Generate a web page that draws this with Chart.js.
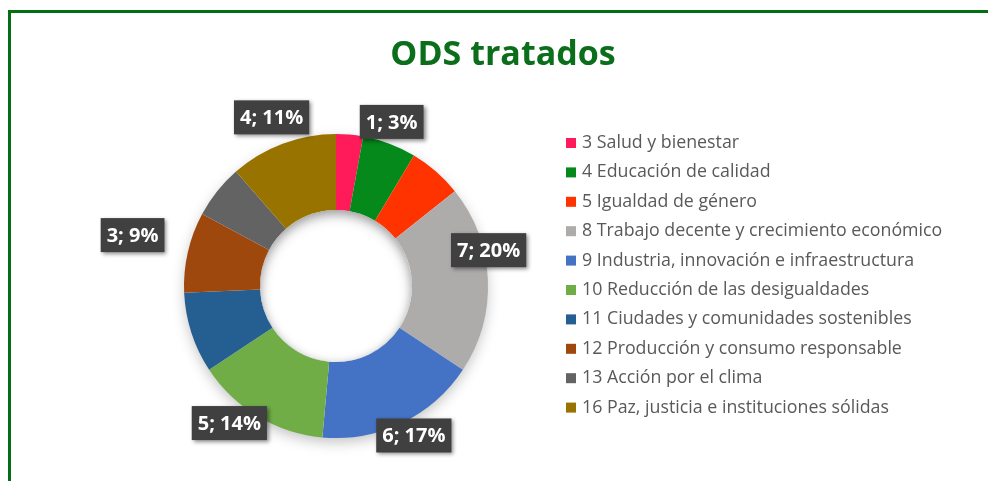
<!DOCTYPE html>
<html>
<head>
<meta charset="utf-8">
<script src="https://cdn.jsdelivr.net/npm/chart.js@4.4.1/dist/chart.umd.min.js"></script>
<style>
  html, body { margin: 0; padding: 0; background: #ffffff; }
  #wrap { position: relative; width: 988px; height: 481px; }
</style>
</head>
<body>
<div id="wrap"><canvas id="c" width="988" height="481"></canvas></div>
<script>
// ---- data ----
const categories = [
  "3 Salud y bienestar",
  "4 Educación de calidad",
  "5 Igualdad de género",
  "8 Trabajo decente y crecimiento económico",
  "9 Industria, innovación e infraestructura",
  "10 Reducción de las desigualdades",
  "11 Ciudades y comunidades sostenibles",
  "12 Producción y consumo responsable",
  "13 Acción por el clima",
  "16 Paz, justicia e instituciones sólidas"
];
const counts = [1, 2, 2, 7, 6, 5, 3, 3, 2, 4];
const sliceColors = ["#FF1A5A", "#05891A", "#FF3300", "#AEABAB", "#4472C4",
                     "#70AD47", "#255E91", "#9E480E", "#636363", "#997300"];
const labelledSlices = [0, 3, 4, 5, 7, 9];
const chartTitle = "ODS tratados";

// ---- style / layout (not data) ----
const labelNudge = { 0: [40, 10], 3: [-22, -28], 4: [2, -8], 5: [-17, -13], 7: [-33, -12], 9: [-3, -5] };
const total = counts.reduce((a, b) => a + b, 0);

const framePlugin = {
  id: 'frame',
  beforeDraw(chart) {
    const ctx = chart.ctx;
    ctx.save();
    ctx.fillStyle = '#ffffff';
    ctx.fillRect(0, 0, chart.width, chart.height);
    ctx.strokeStyle = '#036E14';
    ctx.lineWidth = 3;
    ctx.strokeRect(9.5, 11.5, 1100, 600);
    // title
    ctx.fillStyle = '#0B6E1B';
    ctx.font = 'bold 34px "Open Sans", sans-serif';
    ctx.textAlign = 'center';
    ctx.textBaseline = 'middle';
    ctx.fillText(chartTitle, 503, 55);
    ctx.restore();
  },
  beforeDatasetsDraw(chart) {
    const ctx = chart.ctx;
    ctx.save();
    ctx.shadowColor = 'rgba(0,0,0,0.25)';
    ctx.shadowBlur = 14;
    ctx.shadowOffsetY = 5;
    const meta = chart.getDatasetMeta(0);
    const a = meta.data[0];
    ctx.beginPath();
    ctx.arc(a.x, a.y, a.outerRadius - 1, 0, Math.PI * 2);
    ctx.arc(a.x, a.y, a.innerRadius + 1, 0, Math.PI * 2, true);
    ctx.fillStyle = '#ffffff';
    ctx.fill();
    ctx.restore();
  },
  afterDatasetsDraw(chart) {
    const ctx = chart.ctx;
    const meta = chart.getDatasetMeta(0);
    // inner hole shadow (subtle)
    ctx.save();
    const a0 = meta.data[0];
    ctx.beginPath();
    ctx.arc(a0.x, a0.y, a0.innerRadius, 0, Math.PI * 2);
    ctx.clip();
    ctx.shadowColor = 'rgba(0,0,0,0.22)';
    ctx.shadowBlur = 10;
    ctx.shadowOffsetY = 3;
    ctx.beginPath();
    ctx.arc(a0.x, a0.y, a0.innerRadius + 20, 0, Math.PI * 2);
    ctx.arc(a0.x, a0.y, a0.innerRadius, 0, Math.PI * 2, true);
    ctx.fillStyle = '#ffffff';
    ctx.fill();
    ctx.restore();

    // data labels
    ctx.save();
    ctx.font = 'bold 20px "Open Sans", sans-serif';
    ctx.textAlign = 'center';
    ctx.textBaseline = 'middle';
    labelledSlices.forEach(i => {
      const arc = meta.data[i];
      const mid = (arc.startAngle + arc.endAngle) / 2;
      const r = arc.outerRadius * 1.15;
      const nud = labelNudge[i] || [0, 0];
      const cx = arc.x + Math.cos(mid) * r + nud[0];
      const cy = arc.y + Math.sin(mid) * r + nud[1];
      const text = counts[i] + '; ' + Math.round(counts[i] / total * 100) + '%';
      const w = ctx.measureText(text).width + 12;
      const h = 34;
      ctx.save();
      ctx.shadowColor = 'rgba(0,0,0,0.45)';
      ctx.shadowBlur = 4;
      ctx.shadowOffsetX = 2;
      ctx.shadowOffsetY = 2;
      ctx.fillStyle = '#404040';
      ctx.fillRect(cx - w / 2, cy - h / 2, w, h);
      ctx.restore();
      ctx.fillStyle = '#ffffff';
      ctx.fillText(text, cx, cy + 1);
    });
    ctx.restore();

    // legend
    ctx.save();
    ctx.font = '17.8px "Open Sans", sans-serif';
    ctx.textAlign = 'left';
    ctx.textBaseline = 'middle';
    categories.forEach((lab, i) => {
      const y = 143 + i * 29.4;
      ctx.fillStyle = sliceColors[i];
      ctx.fillRect(566, y - 5, 10, 10);
      ctx.fillStyle = '#595959';
      ctx.fillText(lab, 582, y);
    });
    ctx.restore();
  }
};

new Chart(document.getElementById('c'), {
  type: 'doughnut',
  data: {
    labels: categories,
    datasets: [{
      data: counts,
      backgroundColor: sliceColors,
      borderWidth: 0
    }]
  },
  options: {
    responsive: false,
    animation: false,
    cutout: '50%',
    layout: { padding: { left: 184, right: 500, top: 134, bottom: 43 } },
    plugins: {
      legend: { display: false },
      title: { display: false },
      tooltip: { enabled: false }
    }
  },
  plugins: [framePlugin]
});
</script>
</body>
</html>
